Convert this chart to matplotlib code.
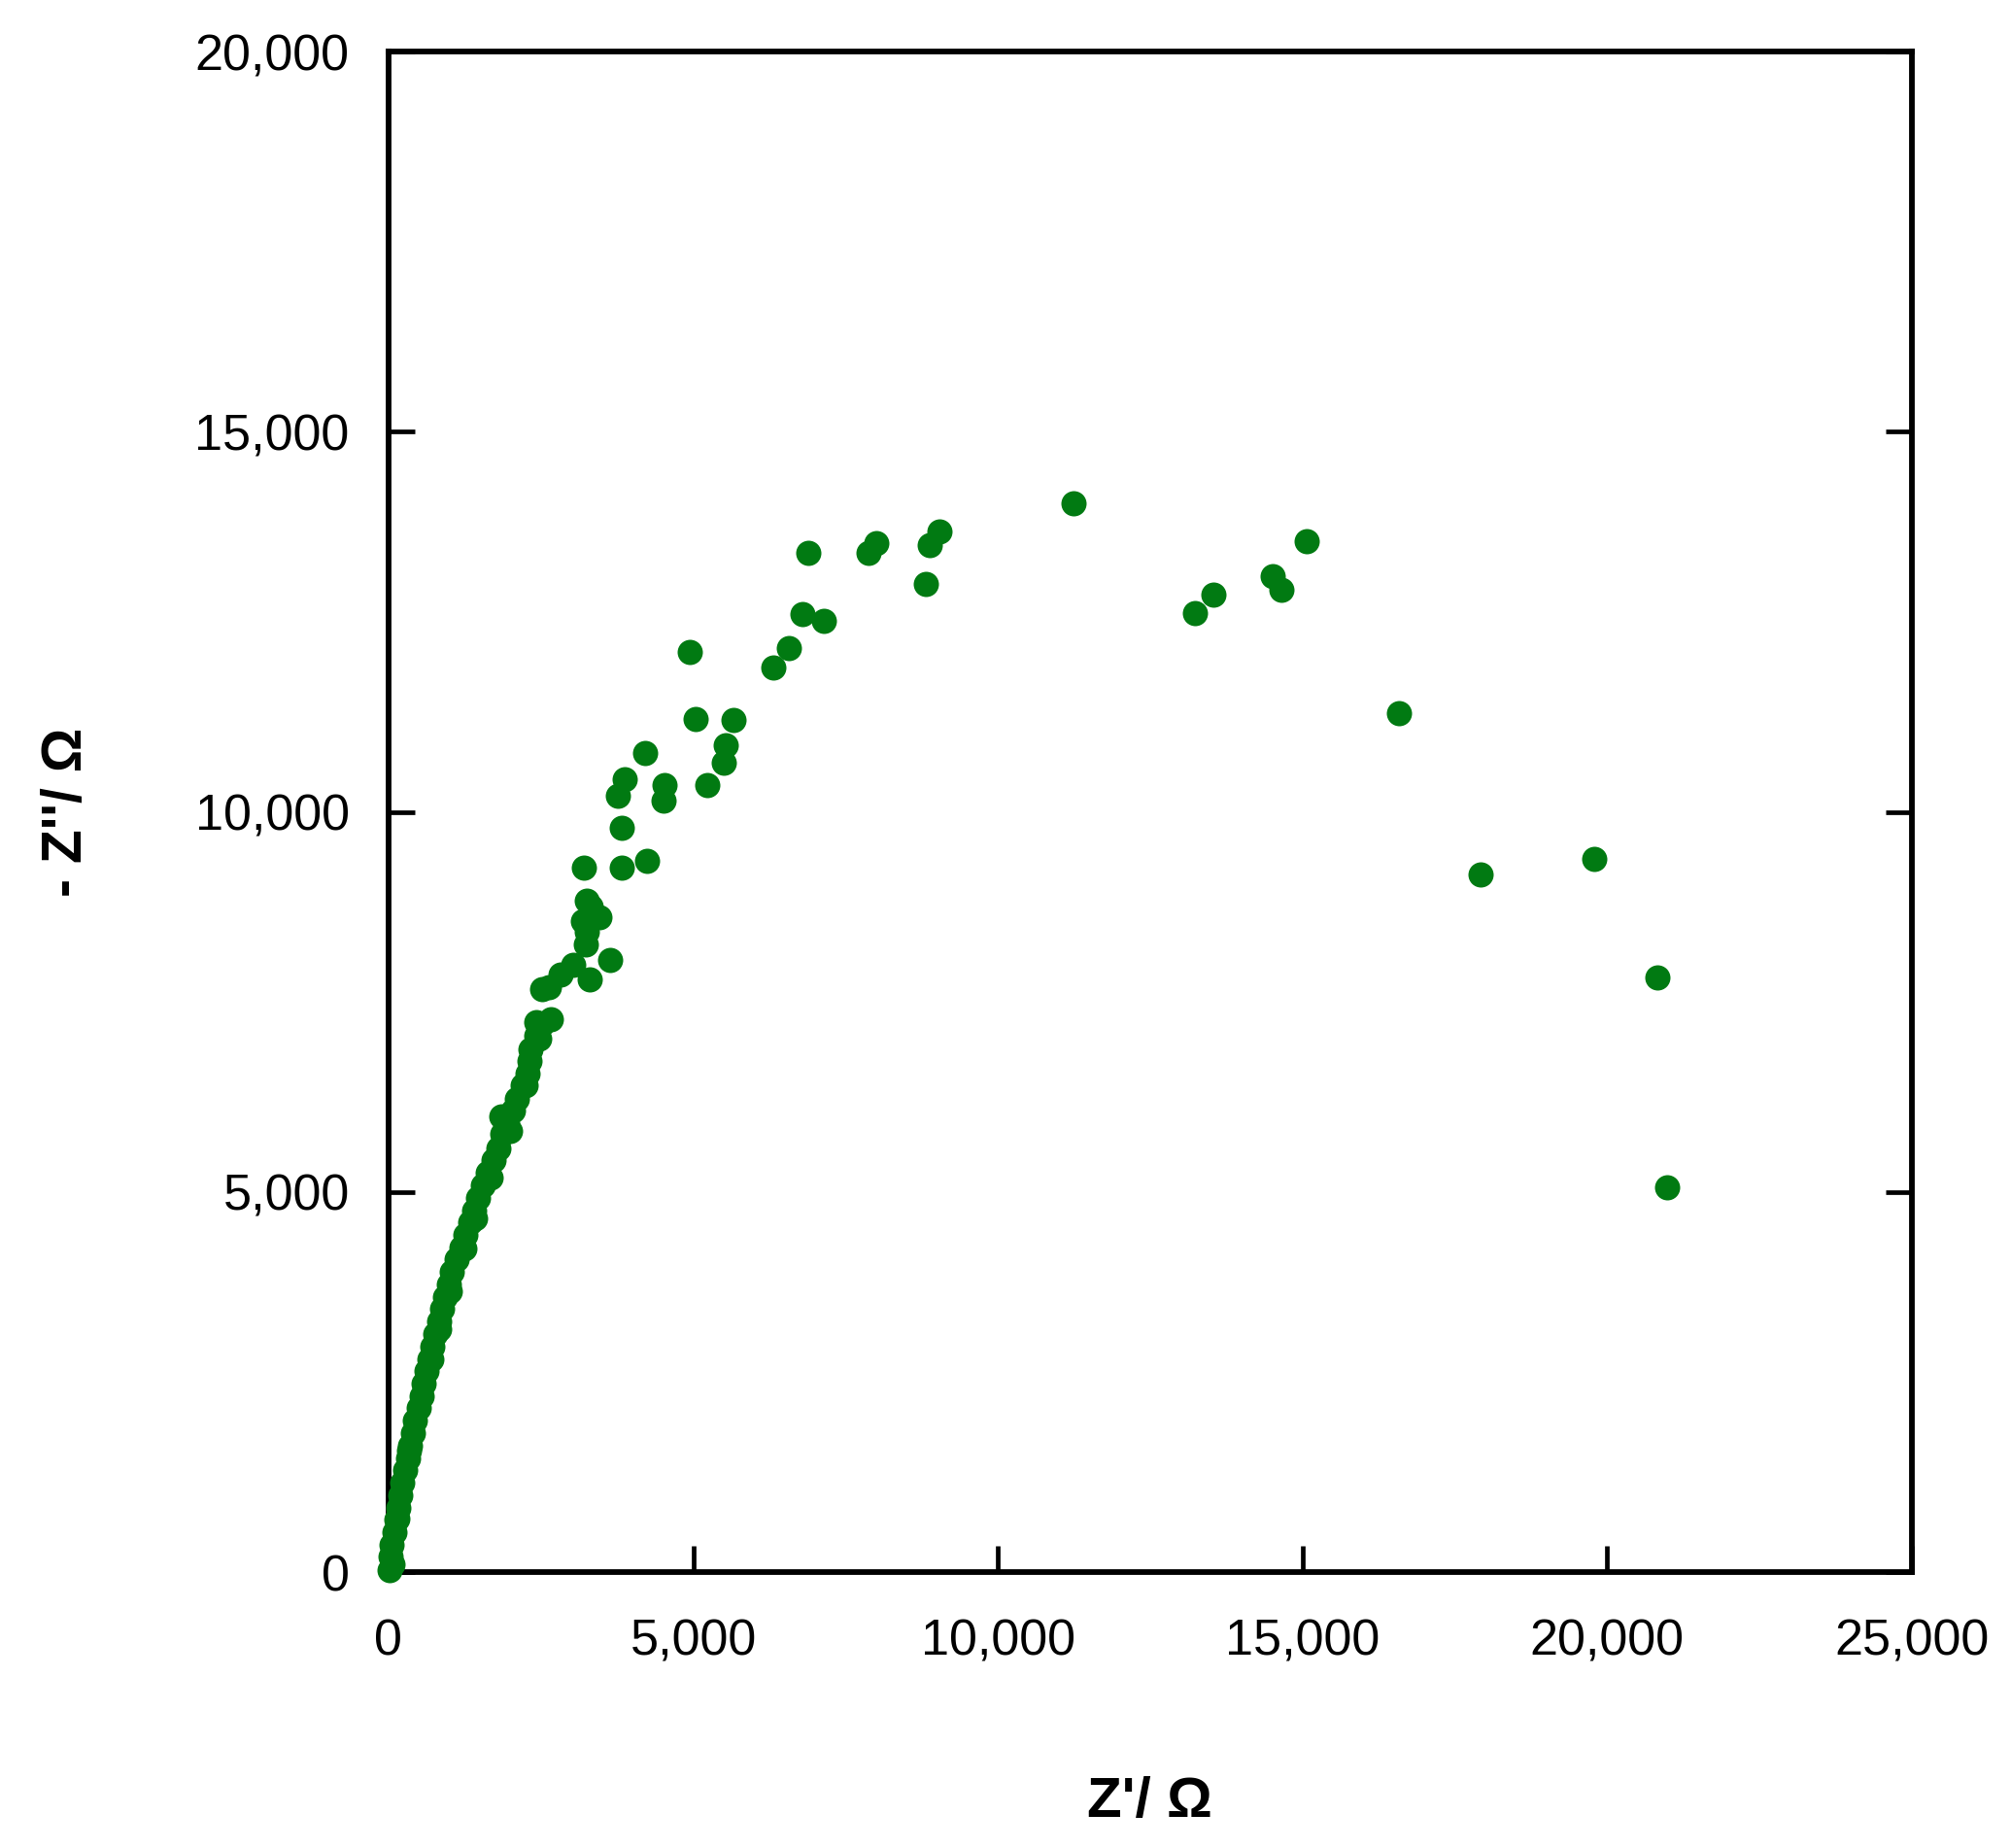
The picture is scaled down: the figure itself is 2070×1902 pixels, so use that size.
import matplotlib
matplotlib.use("Agg")
import matplotlib.pyplot as plt
from matplotlib.ticker import FuncFormatter, MultipleLocator

plt.rcParams['font.family'] = ['Liberation Sans', 'DejaVu Sans']

# Nyquist data: Z' (ohm) and -Z'' (ohm)
# dense low-impedance branch
z_re_low = [20, 35, 55, 90, 130, 160, 186, 230, 276, 316, 356, 396, 436, 490,
            542, 582, 622, 670, 717, 770, 824, 877, 930, 983, 1036, 1116, 1196,
            1268, 1339, 1405, 1472, 1550, 1631, 1720, 1807, 1871, 1950, 2040,
            2110, 2200, 2285, 2312, 2330, 2430, 2524, 1850, 2420, 2660, 2470,
            700, 830, 1000, 1250, 1420, 1674, 2000, 2250, 60, 150, 330]
z_im_low = [30, 200, 360, 520, 690, 850, 1012, 1175, 1338, 1500, 1664, 1830,
            1991, 2155, 2317, 2480, 2643, 2805, 2969, 3130, 3295, 3460, 3620,
            3785, 3946, 4110, 4272, 4435, 4598, 4760, 4924, 5090, 5251, 5415,
            5577, 5760, 5903, 6070, 6229, 6400, 6555, 6720, 6881, 7050, 7208,
            6000, 7240, 7272, 7016,
            2800, 3200, 3700, 4250, 4650, 5190, 5800, 6400, 100, 700, 1600]

# scattered points, middle and high impedance
z_re_high = [2524, 2631, 2817, 3030, 3295, 3641, 3242, 3250, 3190, 3455, 3350,
             3320, 3260, 3205, 3827, 4241, 3835, 4507, 4528, 5225, 3763, 3869,
             4214, 5495, 5527, 5038, 5665, 6308, 6574, 4943, 6792, 7148, 8811,
             6883, 7881, 7998, 8886, 9035, 11245, 13240, 13530, 14505, 14648,
             15060, 16578, 17921, 19791, 20824, 20987]
z_im_high = [7663, 7700, 7860, 7990, 7800, 8050, 8258, 8420, 8560, 8615, 8640,
             8750, 8830, 9270, 9270, 9349, 9789, 10142, 10351, 10346, 10215,
             10435, 10777, 10645, 10875, 11227, 11208, 11902, 12156, 12097,
             12602, 12514, 13003, 13405, 13410, 13540, 13507, 13687, 14054,
             12608, 12860, 13105, 12915, 13565, 11296, 9171, 9379, 7827, 5057]

fig = plt.figure(figsize=(20.7, 19.02), dpi=100)
ax = fig.add_axes([0.1932, 0.1493, 0.7575, 0.8228])

green = '#017A12'
ax.scatter(z_re_low, z_im_low, s=350, color=green, linewidths=0, clip_on=False, zorder=3)
ax.scatter(z_re_high, z_im_high, s=350, color=green, linewidths=0, clip_on=False, zorder=3)

ax.set_xlim(0, 25000)
ax.set_ylim(0, 20000)
ax.xaxis.set_major_locator(MultipleLocator(5000))
ax.yaxis.set_major_locator(MultipleLocator(5000))
fmt = FuncFormatter(lambda v, p: '{:,.0f}'.format(v))
ax.xaxis.set_major_formatter(fmt)
ax.yaxis.set_major_formatter(fmt)

for s in ax.spines.values():
    s.set_linewidth(4.2)
ax.tick_params(axis='both', direction='in', length=19.5, width=3.4,
               labelsize=37.5, top=False, right=True)
ax.tick_params(axis='x', pad=34)
ax.tick_params(axis='y', pad=29)

ax.set_xlabel("Z'/ \u03a9", fontsize=42, fontweight='bold')
ax.set_ylabel("- Z''/ \u03a9", fontsize=41, fontweight='bold')
ax.xaxis.set_label_coords(0.5, -0.1514)
ax.yaxis.set_label_coords(-0.211, 0.5)
ax.xaxis.label.set_va('center')
ax.yaxis.label.set_va('center')

fig.savefig('out.png', dpi=100)
